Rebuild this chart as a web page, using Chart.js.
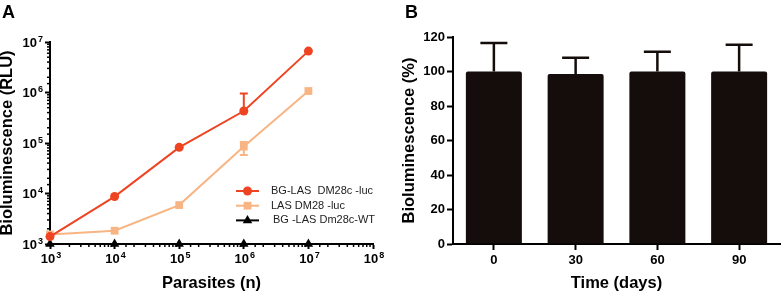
<!DOCTYPE html>
<html>
<head>
<meta charset="utf-8">
<script src="https://cdn.jsdelivr.net/npm/chart.js@4.4.1/dist/chart.umd.min.js"></script>
<style>
body { margin: 0; background: #fff; }
#wrap { position: relative; width: 782px; height: 294px; font-family: "Liberation Sans", Arial, sans-serif; }
#wrap canvas { position: absolute; top: 0; }
.tag { position: absolute; top: 3px; font-weight: bold; font-size: 18px; line-height: 18px; color: #000; }
</style>
</head>
<body>
<div id="wrap">
  <canvas id="chart-a" width="390" height="294" style="left:0"></canvas>
  <canvas id="chart-b" width="392" height="294" style="left:390px"></canvas>
  <div class="tag" style="left:2px">A</div>
  <div class="tag" style="left:405px">B</div>
</div>
<script>
// panel A: bioluminescence vs number of parasites
var parasites = [1e3, 1e4, 1e5, 1e6, 1e7];
var seriesNames = ['BG-LAS  DM28c -luc', 'LAS DM28 -luc', 'BG -LAS Dm28c-WT'];
var lucValues = [1400, 8700, 82000, 430000, 6600000];
var lucErrUp = [0, 0, 0, 520000, 0];
var lucErrDown = [0, 0, 0, 0, 0];
var lasValues = [1550, 1830, 5900, 85000, 1070000];
var lasErrUp = [0, 0, 0, 20000, 0];
var lasErrDown = [0, 0, 0, 27000, 0];
var wtValues = [1000, 1000, 1000, 1000, 1000];

// panel B: signal over time
var days = ['0', '30', '60', '90'];
var signal = [100, 98.5, 100, 100];
var signalErr = [16.5, 9.5, 11.5, 15.5];

var FONT = '"Liberation Sans", Arial, sans-serif';

function isPow(v) {
  var e = Math.log10(v);
  return Math.abs(e - Math.round(e)) < 1e-6;
}

// label text kept for layout; the visible 10^n is drawn by powerLabels
function powLabel(v) {
  return isPow(v) ? '10 ' + Math.round(Math.log10(v)) : '';
}

function points(xs, ys) {
  return xs.map(function (x, i) { return {x: x, y: ys[i]}; });
}

function drawMarker(ctx, style, x, y, r, color) {
  ctx.fillStyle = color;
  ctx.beginPath();
  if (style === 'rect') {
    var s = r * Math.SQRT1_2;
    ctx.rect(x - s, y - s, 2 * s, 2 * s);
  } else if (style === 'triangle') {
    ctx.moveTo(x, y - r);
    ctx.lineTo(x + r * 0.866, y + r * 0.5);
    ctx.lineTo(x - r * 0.866, y + r * 0.5);
    ctx.closePath();
  } else {
    ctx.arc(x, y, r, 0, Math.PI * 2);
  }
  ctx.fill();
}

// short minor ticks on the log axes
var minorTicks = {
  id: 'minorTicks',
  beforeDatasetsDraw: function (chart) {
    var ctx = chart.ctx;
    ctx.save();
    ctx.strokeStyle = '#000';
    ctx.lineWidth = 1.5;
    ['x', 'y'].forEach(function (id) {
      var s = chart.scales[id];
      s.ticks.forEach(function (t) {
        if (isPow(t.value)) return;
        var p = s.getPixelForValue(t.value);
        ctx.beginPath();
        if (id === 'x') { ctx.moveTo(p, s.top); ctx.lineTo(p, s.top + 3); }
        else { ctx.moveTo(s.right, p); ctx.lineTo(s.right - 3, p); }
        ctx.stroke();
      });
    });
    ctx.restore();
  }
};

// 10 with a raised exponent at each decade
var powerLabels = {
  id: 'powerLabels',
  afterDraw: function (chart) {
    var ctx = chart.ctx;
    ctx.save();
    ctx.fillStyle = '#000';
    ctx.textAlign = 'left';
    ctx.textBaseline = 'alphabetic';
    ['x', 'y'].forEach(function (id) {
      var s = chart.scales[id];
      s.ticks.forEach(function (t) {
        if (!isPow(t.value)) return;
        var exp = String(Math.round(Math.log10(t.value)));
        ctx.font = 'bold 13px ' + FONT;
        var w1 = ctx.measureText('10').width;
        ctx.font = 'bold 9px ' + FONT;
        var w2 = ctx.measureText(exp).width;
        var w = w1 + 1 + w2;
        var p = s.getPixelForValue(t.value);
        var x0, base;
        if (id === 'x') { x0 = p - w / 2 + 1; base = s.top + 19; }
        else { x0 = s.right - 7 - w; base = p + 4.7; }
        ctx.font = 'bold 13px ' + FONT;
        ctx.fillText('10', x0, base);
        ctx.font = 'bold 9px ' + FONT;
        ctx.fillText(exp, x0 + w1 + 1, base - 5);
      });
    });
    ctx.restore();
  }
};

var lineErrors = {
  id: 'lineErrors',
  beforeDatasetsDraw: function (chart) {
    var ctx = chart.ctx, ys = chart.scales.y, xs = chart.scales.x;
    ctx.save();
    chart.data.datasets.forEach(function (ds) {
      if (!ds.errUp) return;
      ctx.strokeStyle = ds.borderColor;
      ctx.lineWidth = 2;
      ds.data.forEach(function (pt, i) {
        var up = ds.errUp[i], down = ds.errDown[i];
        if (!up && !down) return;
        var x = xs.getPixelForValue(pt.x);
        var top = ys.getPixelForValue(pt.y + up);
        var bot = ys.getPixelForValue(pt.y - down);
        ctx.beginPath();
        ctx.moveTo(x, top); ctx.lineTo(x, bot);
        if (up) { ctx.moveTo(x - 4, top); ctx.lineTo(x + 4, top); }
        if (down) { ctx.moveTo(x - 4, bot); ctx.lineTo(x + 4, bot); }
        ctx.stroke();
      });
    });
    ctx.restore();
  }
};

var legendBox = {
  id: 'legendBox',
  afterDraw: function (chart) {
    var ctx = chart.ctx;
    ctx.save();
    chart.data.datasets.forEach(function (ds, i) {
      var y = 191 + i * 14.7;
      ctx.strokeStyle = ds.borderColor;
      ctx.lineWidth = 2;
      ctx.beginPath(); ctx.moveTo(236, y); ctx.lineTo(259, y); ctx.stroke();
      drawMarker(ctx, ds.pointStyle, 247.5, y, ds.pointRadius, ds.pointBackgroundColor);
      ctx.fillStyle = '#222';
      ctx.font = '11px ' + FONT;
      ctx.textBaseline = 'middle';
      ctx.fillText(ds.label, i === 2 ? 273 : 271, y);
    });
    ctx.restore();
  }
};

var tickFont = {family: FONT, size: 13, weight: 'bold'};
var titleFont = {family: FONT, size: 16.5, weight: 'bold'};
var hidden = 'rgba(0,0,0,0)';

function majorOnly(c) {
  return c.tick && isPow(c.tick.value) ? '#000' : hidden;
}

new Chart(document.getElementById('chart-a'), {
  type: 'line',
  data: {
    datasets: [{
      label: seriesNames[0], data: points(parasites, lucValues),
      borderColor: '#ee4422', backgroundColor: '#ee4422', pointBackgroundColor: '#ee4422',
      borderWidth: 2, pointStyle: 'circle', pointRadius: 4.5, pointBorderWidth: 0,
      errUp: lucErrUp, errDown: lucErrDown, clip: false
    }, {
      label: seriesNames[1], data: points(parasites, lasValues),
      borderColor: '#f8b583', backgroundColor: '#f8b583', pointBackgroundColor: '#f8b583',
      borderWidth: 2, pointStyle: 'rect', pointRadius: 5.5, pointBorderWidth: 0,
      errUp: lasErrUp, errDown: lasErrDown, clip: false
    }, {
      label: seriesNames[2], data: points(parasites, wtValues),
      borderColor: '#000', backgroundColor: '#000', pointBackgroundColor: '#000',
      borderWidth: 2, pointStyle: 'triangle', pointRadius: 5.5, pointBorderWidth: 0,
      clip: false
    }]
  },
  options: {
    responsive: false,
    animation: false,
    layout: {padding: {top: 42, right: 17, bottom: 0, left: 0}},
    plugins: {legend: {display: false}, tooltip: {enabled: false}},
    scales: {
      x: {
        type: 'logarithmic', min: 1e3, max: 1e8,
        border: {color: '#000', width: 2},
        grid: {drawOnChartArea: false, tickLength: 5, tickWidth: 2, tickColor: majorOnly},
        ticks: {autoSkip: false, maxRotation: 0, color: hidden, font: tickFont, padding: 1,
          callback: function (v) { return powLabel(v); }},
        title: {display: true, text: 'Parasites (n)', color: '#000', font: titleFont, padding: {top: 0, bottom: 1}},
        afterFit: function (s) { s.height = 50; }
      },
      y: {
        type: 'logarithmic', min: 1e3, max: 1e7,
        border: {color: '#000', width: 2},
        grid: {drawOnChartArea: false, tickLength: 5, tickWidth: 2, tickColor: majorOnly},
        ticks: {autoSkip: false, color: hidden, font: tickFont, padding: 2,
          callback: function (v) { return powLabel(v); }},
        title: {display: true, text: 'Bioluminescence (RLU)', color: '#000', font: titleFont, padding: {top: -2, bottom: 0}},
        afterFit: function (s) { s.width = 50; }
      }
    }
  },
  plugins: [minorTicks, lineErrors, legendBox, powerLabels]
});

var barErrors = {
  id: 'barErrors',
  afterDatasetsDraw: function (chart) {
    var ctx = chart.ctx, ys = chart.scales.y;
    var meta = chart.getDatasetMeta(0);
    ctx.save();
    ctx.strokeStyle = '#140d0b';
    ctx.lineWidth = 2.5;
    meta.data.forEach(function (bar, i) {
      var v = signal[i];
      var top = ys.getPixelForValue(v + signalErr[i]);
      ctx.beginPath();
      ctx.moveTo(bar.x, ys.getPixelForValue(v));
      ctx.lineTo(bar.x, top);
      ctx.moveTo(bar.x - 13.5, top);
      ctx.lineTo(bar.x + 13.5, top);
      ctx.stroke();
    });
    ctx.restore();
  }
};

new Chart(document.getElementById('chart-b'), {
  type: 'bar',
  data: {
    labels: days,
    datasets: [{
      data: signal, backgroundColor: '#140d0b', borderRadius: 2, borderSkipped: 'bottom',
      categoryPercentage: 1, barPercentage: 0.685
    }]
  },
  options: {
    responsive: false,
    animation: false,
    layout: {padding: {top: 37, right: 2, bottom: 0, left: 0}},
    plugins: {legend: {display: false}, tooltip: {enabled: false}},
    scales: {
      x: {
        border: {color: '#000', width: 2},
        grid: {drawOnChartArea: false, offset: false, tickLength: 6, tickWidth: 2, tickColor: '#000'},
        ticks: {color: '#000', font: tickFont, padding: 3},
        title: {display: true, text: 'Time (days)', color: '#000', font: titleFont, padding: {top: 0, bottom: 1}},
        afterFit: function (s) { s.height = 50; }
      },
      y: {
        min: 0, max: 120,
        border: {color: '#000', width: 2},
        grid: {drawOnChartArea: false, tickLength: 6, tickWidth: 2, tickColor: '#000'},
        ticks: {stepSize: 20, color: '#000', font: tickFont, padding: 2},
        title: {display: true, text: 'Bioluminescence (%)', color: '#000', font: titleFont, padding: {top: 10, bottom: 0}},
        afterFit: function (s) { s.width = 63; }
      }
    }
  },
  plugins: [barErrors]
});
</script>
</body>
</html>
